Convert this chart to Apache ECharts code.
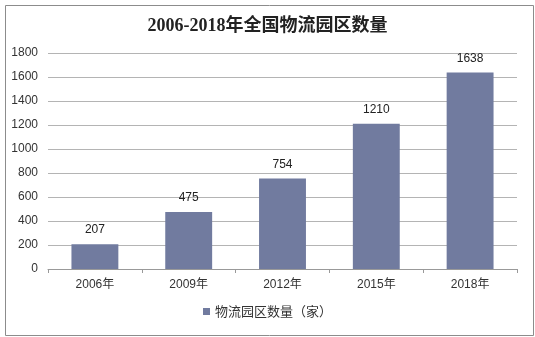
<!DOCTYPE html>
<html><head><meta charset="utf-8">
<script src="https://cdn.jsdelivr.net/npm/echarts@6/dist/echarts.min.js"></script>
<style>html,body{margin:0;padding:0;background:#fff}#c{width:535px;height:337px}</style>
</head><body><div id="c"></div>
<script>
const categories = ['2006年','2009年','2012年','2015年','2018年'];
const values = [207, 475, 754, 1210, 1638];
const seriesName = '物流园区数量（家）';
const titleText = '2006-2018年全国物流园区数量';

const chart = echarts.init(document.getElementById('c'));
chart.setOption({
  animation: false,
  backgroundColor: '#fff',
  graphic: [{type:'rect', left:3, top:3, shape:{width:528, height:330}, style:{fill:'none', stroke:'#8c8c8c', lineWidth:1}, silent:true}],
  title: {text: titleText, left: 'center', top: 12,
    textStyle: {fontFamily: '"Liberation Serif","Noto Sans CJK SC",serif', fontSize: 18, fontWeight: 'bold', color: '#222'}},
  legend: {bottom: 14, left: 'center', itemWidth: 7, itemHeight: 7, itemGap: 4, icon: 'rect',
    textStyle: {fontSize: 13, color: '#333', fontFamily: '"Noto Sans CJK SC",sans-serif'}},
  grid: {left: 48, right: 18, top: 53, bottom: 68},
  xAxis: {type: 'category', data: categories,
    axisLine: {lineStyle: {color: '#999'}},
    axisTick: {show: true, length: 4, lineStyle: {color: '#999'}},
    axisLabel: {color: '#333', fontSize: 12, margin: 10, fontFamily: '"Liberation Sans","Noto Sans CJK SC",sans-serif'}},
  yAxis: {type: 'value', min: 0, max: 1800, interval: 200,
    axisLine: {show: false}, axisTick: {show: false},
    splitLine: {lineStyle: {color: '#b4b4b4'}},
    axisLabel: {color: '#333', fontSize: 12, margin: 10, formatter: v => String(v), fontFamily: '"Liberation Sans",Arial,sans-serif'}},
  series: [{name: seriesName, type: 'bar', data: values, barWidth: '50%',
    itemStyle: {color: '#717B9F'},
    label: {show: true, position: 'top', distance: 8, color: '#222', fontSize: 12, fontFamily: '"Liberation Sans",Arial,sans-serif'}}]
});
</script></body></html>
